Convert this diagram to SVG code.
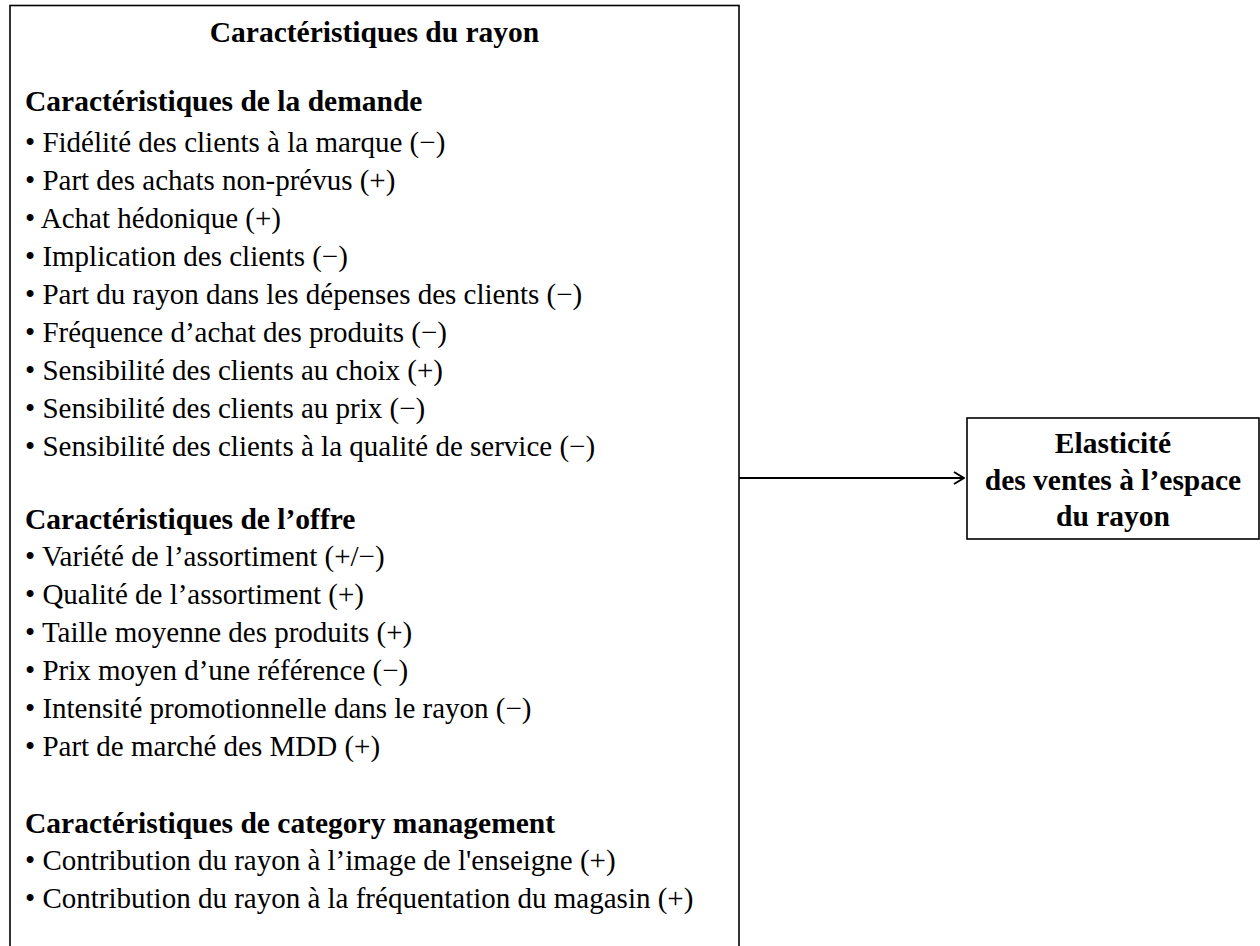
<svg xmlns="http://www.w3.org/2000/svg" width="1260" height="946" viewBox="0 0 1260 946">
<style>
text{font-family:"Liberation Serif","Times New Roman",serif;font-size:29px;fill:#000}
.b{font-weight:bold}
.h{font-size:29.5px}
.t{font-size:29.5px}
.c{text-anchor:middle}
.r{font-size:29.5px}
.box{fill:#fff;stroke:#000;stroke-width:1.6}
.conn{stroke:#000;stroke-width:2;fill:none}
</style>
<defs>
<marker id="arr" viewBox="0 0 12 14" refX="11" refY="7" markerWidth="12" markerHeight="14" markerUnits="userSpaceOnUse" orient="auto">
<polyline points="1,1 11,7 1,13" fill="none" stroke="#000" stroke-width="2"/>
</marker>
</defs>
<g id="rayon">
<rect class="box" x="10" y="5.5" width="729" height="960"/>
<text class="b c t" x="374.5" y="42">Caractéristiques du rayon</text>
<text class="b h" x="25" y="111">Caractéristiques de la demande</text>
<text x="25" y="152">• Fidélité des clients à la marque (−)</text>
<text x="25" y="190">• Part des achats non-prévus (+)</text>
<text x="25" y="228">• Achat hédonique (+)</text>
<text x="25" y="266">• Implication des clients (−)</text>
<text x="25" y="304">• Part du rayon dans les dépenses des clients (−)</text>
<text x="25" y="342">• Fréquence d’achat des produits (−)</text>
<text x="25" y="380">• Sensibilité des clients au choix (+)</text>
<text x="25" y="418">• Sensibilité des clients au prix (−)</text>
<text x="25" y="456">• Sensibilité des clients à la qualité de service (−)</text>
<text class="b h" x="25" y="529">Caractéristiques de l’offre</text>
<text x="25" y="566">• Variété de l’assortiment (+/−)</text>
<text x="25" y="604">• Qualité de l’assortiment (+)</text>
<text x="25" y="642">• Taille moyenne des produits (+)</text>
<text x="25" y="680">• Prix moyen d’une référence (−)</text>
<text x="25" y="718">• Intensité promotionnelle dans le rayon (−)</text>
<text x="25" y="756">• Part de marché des MDD (+)</text>
<text class="b h" x="25" y="833">Caractéristiques de category management</text>
<text x="25" y="870">• Contribution du rayon à l’image de l'enseigne (+)</text>
<text x="25" y="908">• Contribution du rayon à la fréquentation du magasin (+)</text>
</g>
<g id="elasticite">
<rect class="box" x="967" y="418" width="292" height="121"/>
<text class="b c r" x="1113" y="453">Elasticité</text>
<text class="b c r" x="1113" y="490">des ventes à l’espace</text>
<text class="b c r" x="1113" y="526">du rayon</text>
</g>
<g id="connectors">
<line class="conn" x1="739" y1="478" x2="964" y2="478" marker-end="url(#arr)"/>
</g>
</svg>
